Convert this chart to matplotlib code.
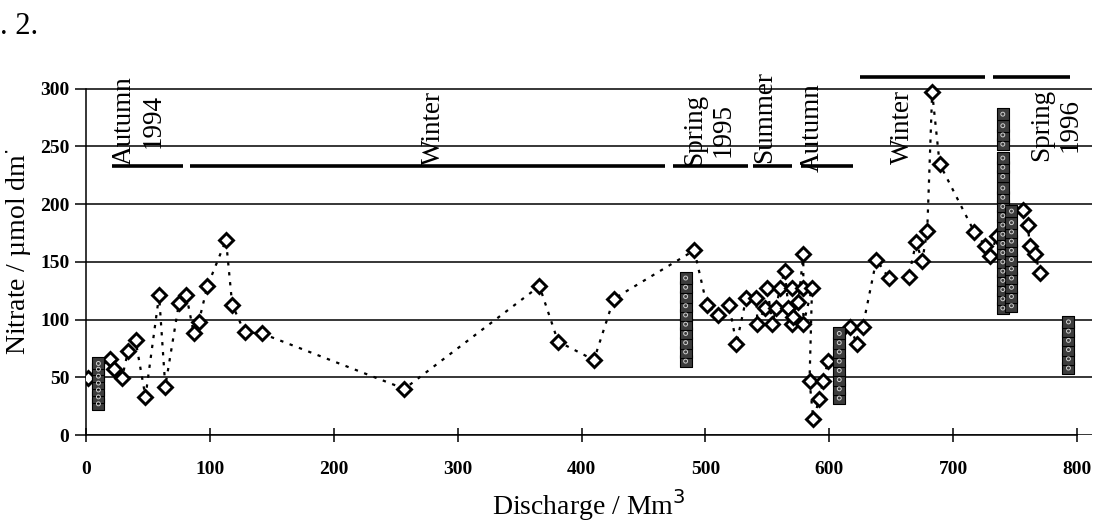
import matplotlib
matplotlib.use("Agg")
import matplotlib.pyplot as plt

plt.rcParams['font.family'] = ['Liberation Serif', 'DejaVu Serif']

# nitrate vs cumulative discharge (open diamonds, joined by a dotted line)
disch = [2, 19, 23, 29, 34, 40, 48, 59, 64, 75, 81, 87, 91, 98, 113, 118, 128, 142,
         257, 366, 381, 410, 426,
         491, 501, 510, 519, 525, 533, 541, 542, 548, 550, 554, 557, 560, 564, 567,
         570, 570, 571, 575, 579, 579, 579, 586, 584, 587, 592, 595, 599,
         617, 622, 627, 638, 648, 664, 670, 675, 679, 683, 689,
         717, 726, 730, 735, 756, 760, 762, 766, 770]
nitrate = [49, 66, 57, 49, 73, 82, 33, 121, 42, 114, 121, 88, 98, 129, 169, 113, 89, 88,
           40, 129, 81, 65, 118,
           160, 113, 104, 113, 79, 119, 119, 96, 110, 127, 96, 110, 127, 142, 110,
           96, 127, 102, 115, 157, 127, 96, 127, 47, 14, 31, 47, 64,
           94, 79, 94, 152, 136, 137, 167, 151, 177, 297, 235,
           176, 164, 155, 172, 195, 182, 164, 157, 140]

# second series (shaded squares)
sq_x = [10, 10, 10, 10, 10, 10, 10,
        484, 484, 484, 484, 484, 484, 484, 484, 484, 484,
        608, 608, 608, 608, 608, 608, 608, 608,
        740, 740, 740, 740, 740, 740, 740, 740, 740, 740, 740, 740, 740, 740, 740,
        740, 740, 740, 740, 740, 740,
        747, 747, 747, 747, 747, 747, 747, 747, 747, 747, 747,
        793, 793, 793, 793, 793, 793]
sq_y = [27, 33, 39, 45, 51, 57, 62,
        64, 72, 80, 88, 96, 104, 112, 120, 128, 136,
        32, 40, 48, 56, 64, 72, 80, 88,
        110, 118, 126, 134, 142, 150, 158, 166, 174, 182, 190, 198, 206, 214, 224,
        232, 240, 252, 260, 268, 278,
        112, 120, 128, 136, 144, 152, 160, 168, 176, 184, 194,
        58, 66, 74, 82, 90, 98]

# season bars and labels
season_start = [21, 84, 474, 538, 577, 625, 732]
season_end = [78, 467, 534, 570, 619, 726, 794]
season_bar_y = [233, 233, 233, 233, 233, 310, 310]
season_label = ["Autumn\n1994", "Winter", "Spring\n1995", "Summer", "Autumn", "Winter", "Spring\n1996"]
label_x = [21, 270, 481, 538, 576, 649, 761]
label_y = [234, 234, 233, 236, 228, 299, 300]
label_va = ["bottom", "bottom", "bottom", "bottom", "bottom", "top", "top"]

fig = plt.figure(figsize=(10.95, 5.23), dpi=100)
ax = fig.add_axes([86 / 1095, 88 / 523, 1006 / 1095, 367 / 523])

ax.plot(disch, nitrate, ls=(0, (1.5, 3)), color="black", lw=1.6, zorder=3)
ax.plot(disch, nitrate, ls="none", marker="D", ms=7, mfc="white", mec="black", mew=2.1, zorder=4)
ax.scatter(sq_x, sq_y, marker="s", s=85, facecolor="#3c3c3c", edgecolor="black", lw=0.8, zorder=5)
ax.scatter(sq_x, sq_y, marker="o", s=8, facecolor="none", edgecolor="#d0d0d0", lw=0.7, zorder=6)

for i in range(len(season_start)):
    ax.plot([season_start[i], season_end[i]], [season_bar_y[i], season_bar_y[i]],
            color="black", lw=2.6, solid_capstyle="butt")
    ax.text(label_x[i], label_y[i], season_label[i], rotation=90, fontsize=19.5,
            ha="left", va=label_va[i], multialignment="center", linespacing=1.2)

ax.set_xlim(0, 812)
ax.set_ylim(0, 318)
ax.set_xticks(range(0, 801, 100))
ax.set_yticks(range(0, 301, 50))
ax.grid(axis="y", color="black", lw=1.1)
ax.set_axisbelow(True)
for s in ["top", "right"]:
    ax.spines[s].set_visible(False)
ax.spines["left"].set_bounds(0, 300)
ax.spines["bottom"].set_bounds(0, 800)
ax.spines["left"].set_linewidth(1.1)
ax.spines["bottom"].set_linewidth(1.1)
ax.tick_params(axis="x", direction="inout", length=10, width=1.1, pad=14, labelsize=14)
ax.tick_params(axis="y", direction="out", length=8, width=1.1, pad=4, labelsize=14)
for lab in ax.get_xticklabels() + ax.get_yticklabels():
    lab.set_fontweight("bold")

ax.set_xlabel("Discharge / Mm$^3$", fontsize=20, labelpad=6)
ax.set_ylabel("Nitrate / µmol dm$^{\\cdot}$", fontsize=20, labelpad=4)

fig.text(0.0, 0.935, ". 2.", fontsize=22)

fig.savefig("out.png", dpi=100, facecolor="white")
